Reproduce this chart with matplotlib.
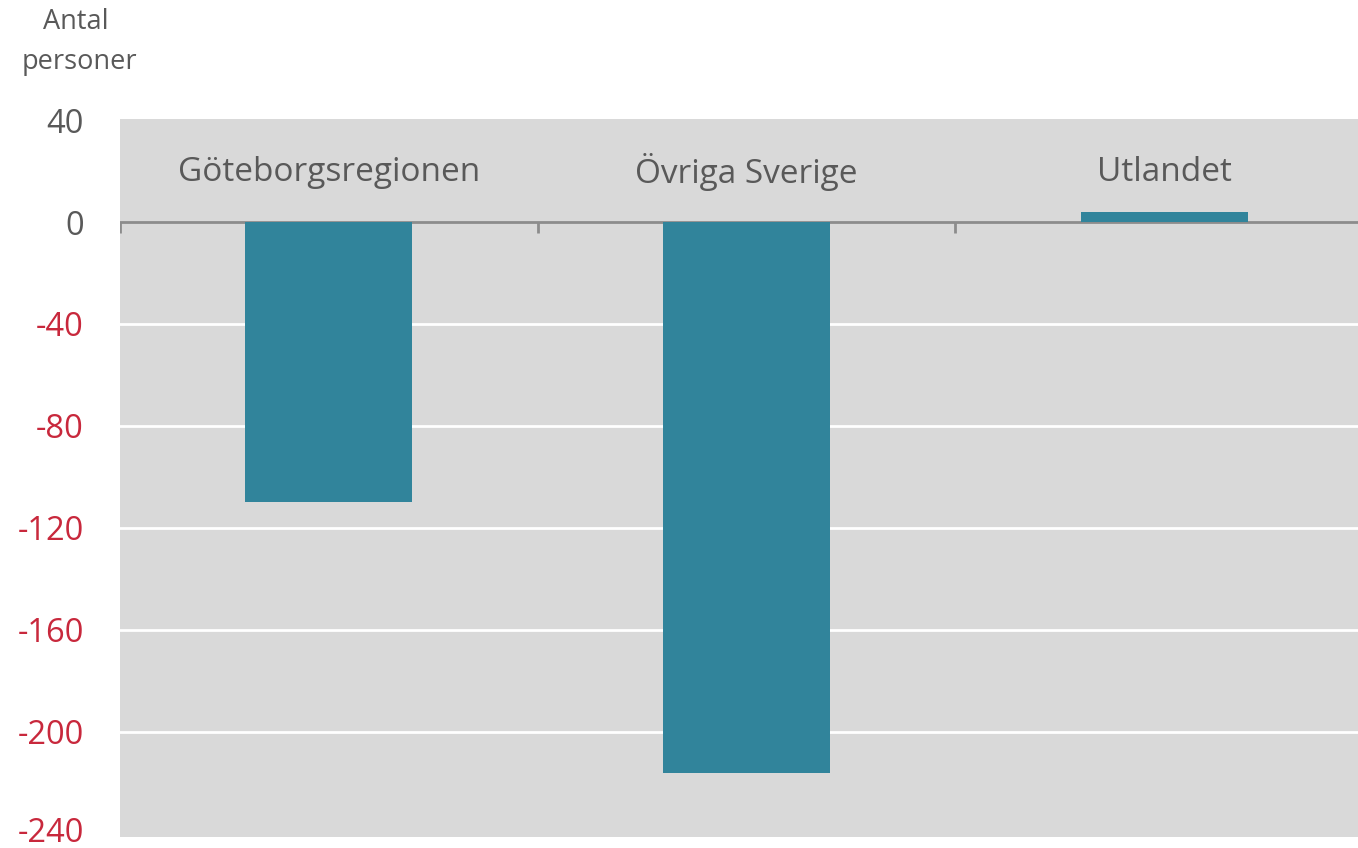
import matplotlib
matplotlib.use("Agg")
import matplotlib.pyplot as plt
import matplotlib.transforms as mtransforms

plt.rcParams['font.family'] = ['Open Sans', 'DejaVu Sans']

# data
kategorier = ["Göteborgsregionen", "Övriga Sverige", "Utlandet"]
netto = [-110, -216, 4]
yticks = [40, 0, -40, -80, -120, -160, -200, -240]

BAR = "#31849b"
BG = "#d9d9d9"
GRAY = "#595959"
RED = "#c8283c"

W, H = 1358, 848
fig = plt.figure(figsize=(W / 100, H / 100), dpi=100)
# plot area runs a bit past the right edge of the image
ax = fig.add_axes([120 / W, 11 / H, (1373 - 120) / W, (837 - 119) / H])
ax.set_facecolor(BG)

x = list(range(len(kategorier)))
ax.bar(x, netto, width=0.4, color=BAR, zorder=3)

ax.set_xlim(-0.5, len(kategorier) - 0.5)
ax.set_ylim(-241.2, 40.4)

ax.set_yticks(yticks)
ax.set_yticklabels([str(v) for v in yticks], fontsize=23.5)
ax.tick_params(axis="y", length=0, pad=26)
ax.set_xticks([])
for lab, v in zip(ax.get_yticklabels(), yticks):
    lab.set_color(RED if v < 0 else GRAY)
# lowest label sits at the bottom edge, lift it a touch so it isn't clipped
bottom_lab = ax.get_yticklabels()[-1]
bottom_lab.set_transform(bottom_lab.get_transform() +
                         mtransforms.ScaledTranslation(0, 4 / 100, fig.dpi_scale_trans))

for v in yticks:
    if -240 < v < 0:
        ax.axhline(v, color="white", lw=2, zorder=1)
ax.axhline(0, color="#8c8c8c", lw=2, zorder=2)
ax.vlines([i - 0.5 for i in x], -4.5, 0, color="#8c8c8c", lw=2, zorder=2)

for i, k in enumerate(kategorier):
    ax.text(i, 19.5, k, ha="center", va="center", fontsize=24, color=GRAY)

for s in ax.spines.values():
    s.set_visible(False)

fig.text(76 / W, 1 - 22 / H, "Antal", ha="center", va="center", fontsize=19.5, color=GRAY)
fig.text(79 / W, 1 - 62 / H, "personer", ha="center", va="center", fontsize=19.5, color=GRAY)

fig.savefig("out.png", dpi=100)
